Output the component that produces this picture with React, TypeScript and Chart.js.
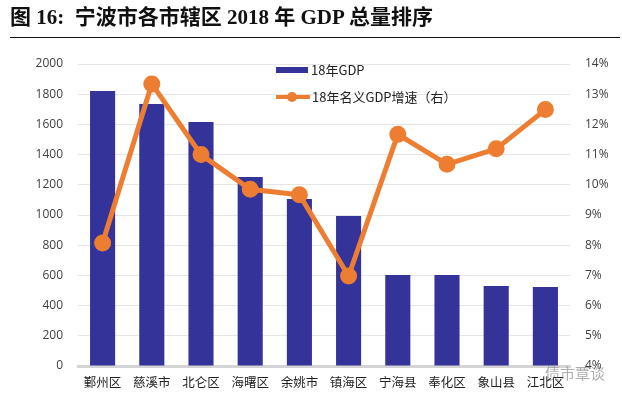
import React, { useEffect, useRef } from "react";
import { Chart, registerables } from "chart.js";

Chart.register(...registerables);

const categories = ["鄞州区", "慈溪市", "北仑区", "海曙区", "余姚市", "镇海区", "宁海县", "奉化区", "象山县", "江北区"];
const gdp2018 = [1821, 1735, 1616, 1252, 1106, 993, 603, 603, 530, 523];
const growth2018 = [8.07, 13.34, 11.0, 9.85, 9.67, 6.98, 11.67, 10.68, 11.19, 12.49];
const leftTicks = [0, 200, 400, 600, 800, 1000, 1200, 1400, 1600, 1800, 2000];
const rightTicks = [4, 5, 6, 7, 8, 9, 10, 11, 12, 13, 14];
const seriesNames = ["18年GDP", "18年名义GDP增速（右）"];
const titleText = "图 16:  宁波市各市辖区 2018 年 GDP 总量排序";

const BAR_COLOR = "#333399";
const LINE_COLOR = "#ED7D31";

const legendPlugin = {
  id: "insideLegend",
  afterDraw(chart: any) {
    const ctx = chart.ctx;
    ctx.save();
    ctx.font = "13px 'Noto Sans CJK SC'";
    ctx.textBaseline = "middle";
    ctx.textAlign = "left";
    ctx.fillStyle = BAR_COLOR;
    ctx.fillRect(276, 67, 32, 6);
    ctx.fillStyle = "#222";
    ctx.fillText(seriesNames[0], 311, 70);
    ctx.strokeStyle = LINE_COLOR;
    ctx.lineWidth = 4;
    ctx.beginPath();
    ctx.moveTo(276, 97);
    ctx.lineTo(310, 97);
    ctx.stroke();
    ctx.fillStyle = LINE_COLOR;
    ctx.beginPath();
    ctx.arc(292, 97, 5, 0, Math.PI * 2);
    ctx.fill();
    ctx.fillStyle = "#222";
    ctx.fillText(seriesNames[1], 312, 97);
    ctx.restore();
  },
};

export default function App() {
  const canvasRef = useRef<HTMLCanvasElement | null>(null);

  useEffect(() => {
    if (!canvasRef.current) return;
    const chart = new Chart(canvasRef.current, {
      type: "bar",
      data: {
        labels: categories,
        datasets: [
          {
            type: "line",
            label: seriesNames[1],
            data: growth2018,
            yAxisID: "y1",
            borderColor: LINE_COLOR,
            backgroundColor: LINE_COLOR,
            borderWidth: 5,
            pointRadius: 6,
            pointBackgroundColor: LINE_COLOR,
            pointBorderColor: LINE_COLOR,
            tension: 0,
            order: 0,
          } as any,
          {
            type: "bar",
            label: seriesNames[0],
            data: gdp2018,
            yAxisID: "y",
            backgroundColor: BAR_COLOR,
            barPercentage: 0.51,
            categoryPercentage: 1,
            order: 1,
          },
        ],
      },
      options: {
        responsive: false,
        animation: false,
        layout: { padding: { top: 64, bottom: 0, left: 0, right: 0 } },
        plugins: {
          legend: { display: false },
          tooltip: { enabled: false },
          title: { display: false },
        },
        scales: {
          x: {
            grid: { display: false, drawTicks: false },
            border: { display: true, color: "#d4d4d4", width: 3 },
            ticks: {
              color: "#222",
              font: { family: "'Noto Sans CJK SC'", size: 12.5 },
              padding: 9,
              maxRotation: 0,
              autoSkip: false,
            },
            afterFit: (s: any) => {
              s.height = 35;
            },
          },
          y: {
            position: "left",
            min: 0,
            max: 2000,
            afterBuildTicks: (s: any) => {
              s.ticks = leftTicks.map((v) => ({ value: v }));
            },
            grid: { color: "#e6e6e6", lineWidth: 1, drawTicks: false },
            border: { display: false },
            ticks: {
              color: "#404040",
              font: { family: "'Open Sans'", size: 12 },
              padding: 15,
              callback: (v: any) => String(v),
            },
            afterFit: (s: any) => {
              s.width = 78;
            },
          },
          y1: {
            position: "right",
            min: 4,
            max: 14,
            afterBuildTicks: (s: any) => {
              s.ticks = rightTicks.map((v) => ({ value: v }));
            },
            grid: { display: false, drawTicks: false },
            border: { display: false },
            ticks: {
              color: "#404040",
              font: { family: "'Open Sans'", size: 12 },
              padding: 15,
              callback: (v: any) => v + "%",
            },
            afterFit: (s: any) => {
              s.width = 52;
            },
          },
        },
      },
      plugins: [legendPlugin],
    });
    return () => chart.destroy();
  }, []);

  return (
    <div style={{ position: "fixed", left: 0, top: 0, width: 622, height: 401, background: "#fff", overflow: "hidden" }}>
      <canvas ref={canvasRef} width={622} height={401} style={{ position: "absolute", left: 0, top: 0 }} />
      <div
        style={{
          position: "absolute",
          left: 10,
          top: 4,
          fontFamily: "'Liberation Serif', 'Noto Sans CJK SC', serif",
          fontWeight: "bold",
          fontSize: 21,
          color: "#111",
          whiteSpace: "pre",
          lineHeight: "26px",
        }}
      >
        {titleText}
      </div>
      <div style={{ position: "absolute", left: 10, top: 37, width: 610, height: 0, borderTop: "1.5px solid #111" }} />
      <div
        style={{
          position: "absolute",
          left: 545,
          top: 364,
          fontFamily: "'Noto Sans CJK SC', sans-serif",
          fontSize: 15,
          color: "rgba(120,120,120,0.6)",
          lineHeight: "18px",
        }}
      >
        债市覃谈
      </div>
    </div>
  );
}
